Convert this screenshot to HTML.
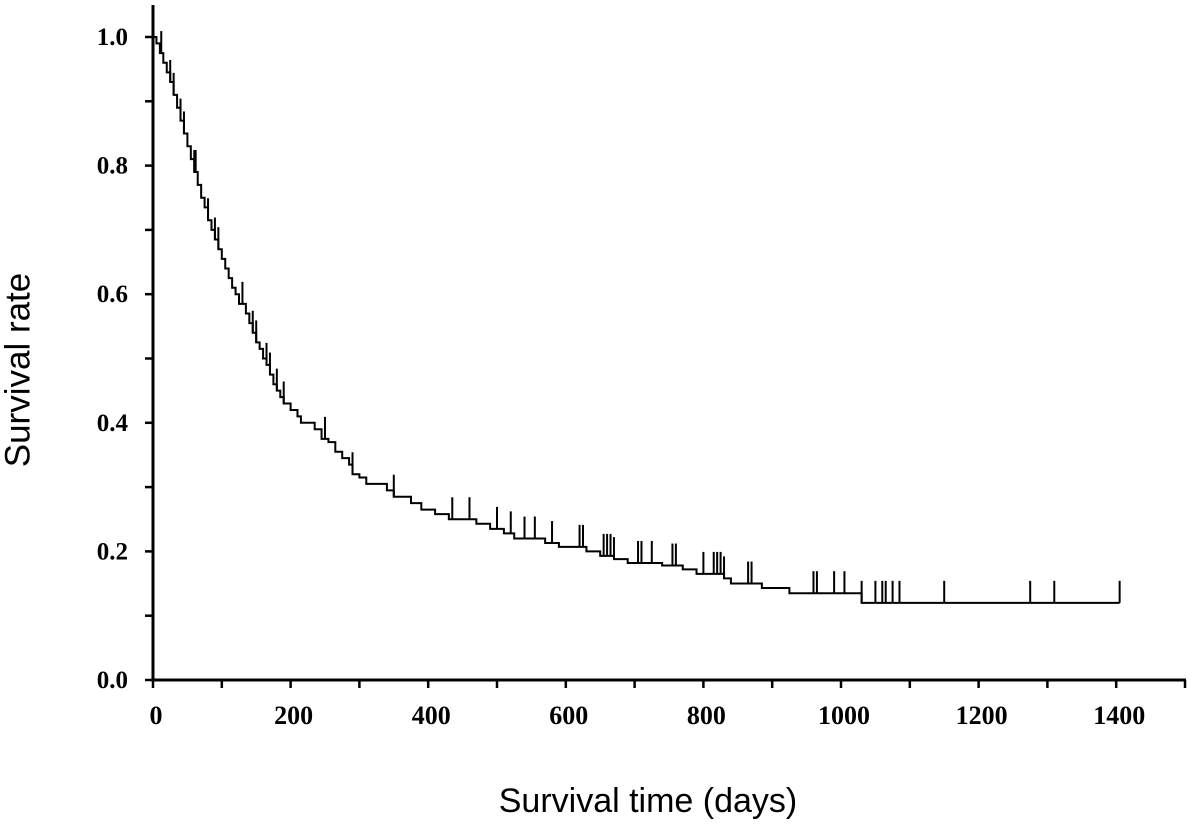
<!DOCTYPE html>
<html><head><meta charset="utf-8"><style>
body{margin:0;background:#fff;}
svg text{fill:#000}
</style></head><body>
<svg width="1190" height="825" viewBox="0 0 1190 825" xmlns="http://www.w3.org/2000/svg">
<g id="axes"></g>
<g id="marks"></g>
<text x="20" y="370" transform="rotate(-90 20 370)" text-anchor="middle" dominant-baseline="middle" font-family="Liberation Sans, sans-serif" font-size="35">Survival rate</text>
<text x="648" y="812" text-anchor="middle" font-family="Liberation Sans, sans-serif" font-size="34">Survival time (days)</text>
</svg>
<script>
const times=[0,5,10,15,20,25,30,35,40,45,50,55,60,65,70,75,80,85,90,95,100,105,110,115,120,125,135,140,145,150,155,160,165,170,175,180,185,190,200,210,215,235,245,255,265,275,285,290,300,310,340,350,375,390,410,430,470,490,510,525,570,590,630,650,670,690,740,770,790,830,840,885,925,1030];
const survival=[1.0,0.99,0.975,0.96,0.945,0.93,0.91,0.89,0.87,0.85,0.83,0.81,0.79,0.77,0.75,0.735,0.715,0.70,0.685,0.67,0.655,0.64,0.625,0.61,0.60,0.585,0.57,0.555,0.54,0.525,0.515,0.50,0.49,0.475,0.46,0.45,0.44,0.43,0.42,0.41,0.40,0.39,0.375,0.37,0.355,0.345,0.335,0.32,0.315,0.305,0.295,0.285,0.275,0.265,0.258,0.25,0.243,0.235,0.228,0.22,0.213,0.207,0.2,0.193,0.188,0.182,0.178,0.172,0.165,0.158,0.15,0.143,0.135,0.12];
const endTime=1405;
const censored=[12,25,30,40,45,60,62,80,90,95,130,145,150,165,170,180,190,250,290,350,435,460,500,520,540,555,580,620,625,655,660,665,670,705,710,725,755,760,800,815,820,825,830,865,870,960,965,990,1005,1030,1050,1060,1065,1075,1085,1150,1275,1310,1405];
const xTicks=[0,200,400,600,800,1000,1200,1400];
const yTicks=[0.0,0.2,0.4,0.6,0.8,1.0];
const NS='http://www.w3.org/2000/svg';
const X=t=>153+t*0.688;
const Y=s=>680-s*643;
function mk(tag,attrs,parent){const e=document.createElementNS(NS,tag);for(const k in attrs)e.setAttribute(k,attrs[k]);parent.appendChild(e);return e;}
const axes=document.getElementById('axes'), marks=document.getElementById('marks');
let a=mk('line',{x1:153,y1:5,x2:153,y2:681,stroke:'#000','stroke-width':3},axes);


a=mk('line',{x1:151.5,y1:680,x2:1186,y2:680,stroke:'#000','stroke-width':3},axes);


for(let i=0;i<=10;i++){const v=i/10;const l=mk('line',{x1:145,y1:Y(v),x2:153,y2:Y(v),stroke:'#000','stroke-width':2.5},axes);

}
yTicks.forEach(v=>{const t=mk('text',{x:128,y:Y(v)+8,'text-anchor':'end','font-family':'Liberation Serif, serif','font-size':25,'font-weight':'bold'},axes);t.textContent=v.toFixed(1);

});
for(let d=0;d<=1500;d+=100){const l=mk('line',{x1:X(d),y1:680,x2:X(d),y2:688,stroke:'#000','stroke-width':2.5},axes);

}
xTicks.forEach(v=>{const t=mk('text',{x:X(v)+3,y:724,'text-anchor':'middle','font-family':'Liberation Serif, serif','font-size':26,'font-weight':'bold'},axes);t.textContent=v;

});
let d='M'+X(times[0])+' '+Y(survival[0]);
for(let i=1;i<times.length;i++){d+=' H'+X(times[i])+' V'+Y(survival[i]);}
d+=' H'+X(endTime);
const p=mk('path',{d:d,fill:'none',stroke:'#000','stroke-width':2},marks);


function sAt(t){let s=survival[0];for(let i=0;i<times.length;i++){if(times[i]<=t)s=survival[i];}return s;}
censored.forEach(t=>{const y=Y(sAt(t));const l=mk('line',{x1:X(t),y1:y,x2:X(t),y2:y-22,stroke:'#000','stroke-width':2},marks);

});
</script>
</body></html>
